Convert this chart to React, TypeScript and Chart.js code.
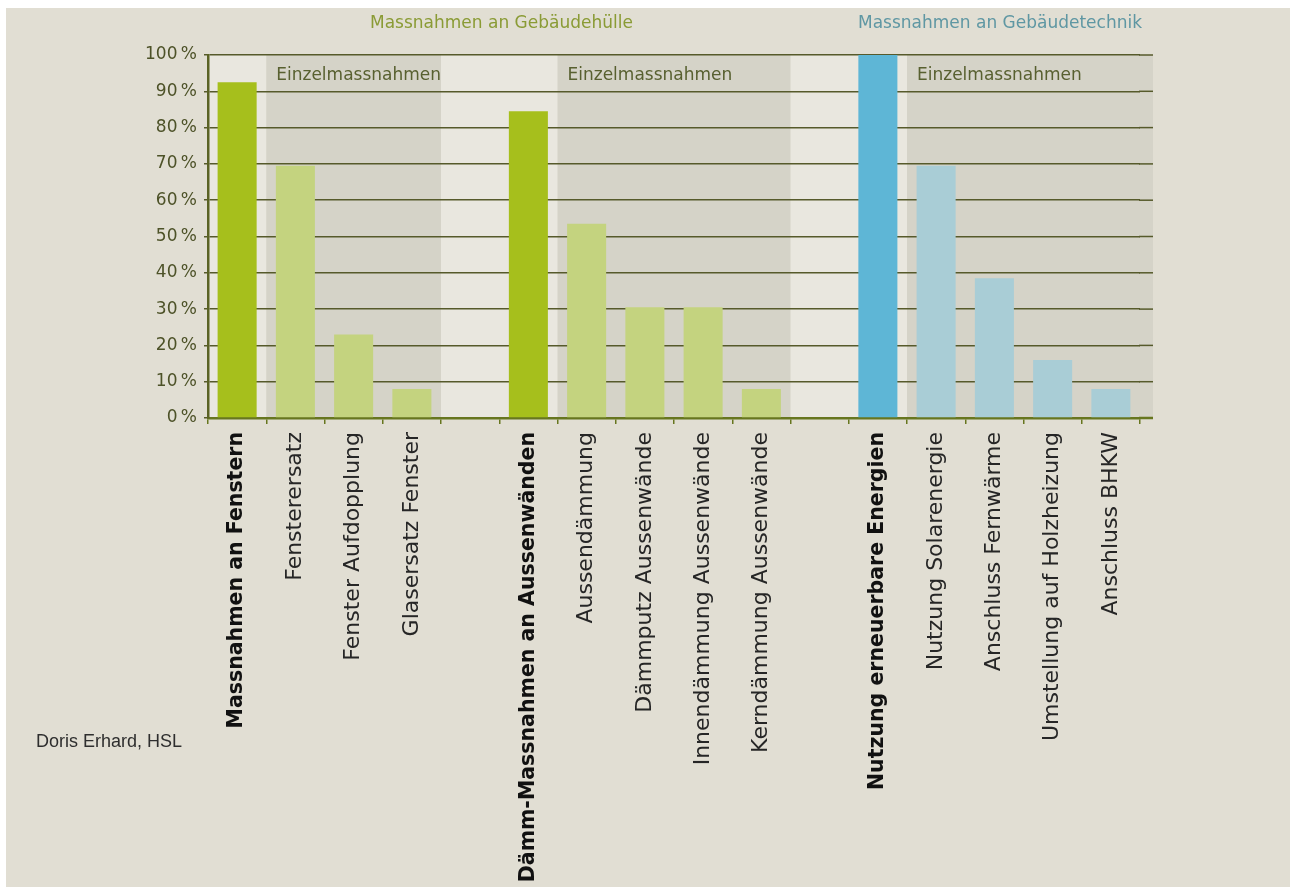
import React, { useEffect, useRef } from "react";
import { Chart, registerables } from "chart.js";

Chart.register(...registerables);

// ---------- data ----------
const categories = [
  "Massnahmen an Fenstern",
  "Fensterersatz",
  "Fenster Aufdopplung",
  "Glasersatz Fenster",
  "",
  "Dämm-Massnahmen an Aussenwänden",
  "Aussendämmung",
  "Dämmputz Aussenwände",
  "Innendämmung Aussenwände",
  "Kerndämmung Aussenwände",
  "",
  "Nutzung erneuerbare Energien",
  "Nutzung Solarenergie",
  "Anschluss Fernwärme",
  "Umstellung auf Holzheizung",
  "Anschluss BHKW",
];
const shares: (number | null)[] = [92.5, 69.5, 23, 8, null, 84.5, 53.5, 30.5, 30.5, 8, null, 100, 69.5, 38.5, 16, 8];
const mainBars = [0, 5, 11];
const technikBars = [11, 12, 13, 14, 15];
const einzelGroups = [
  [1, 3],
  [6, 9],
  [12, 15],
];
const einzelLabel = "Einzelmassnahmen";
const yMin = 0;
const yMax = 100;
const yStep = 10;
const groupTitles = ["Massnahmen an Gebäudehülle", "Massnahmen an Gebäudetechnik"];
const credit = "Doris Erhard, HSL";

// ---------- styles ----------
const PAGE_BG = "#e1ded3";
const PLOT_BG = "#e9e7df";
const SHADE = "#d5d3c8";
const GRID = "#565a2b";
const AXIS = "#67761f";
const GREEN_MAIN = "#a6bf1c";
const GREEN_SUB = "#c4d37f";
const BLUE_MAIN = "#5eb6d6";
const BLUE_SUB = "#a9cdd6";
const TICK_TXT = "#4d5228";
const EINZEL_TXT = "#586030";
const FONT = '"DejaVu Sans", sans-serif';
const EXT = 13;

const barColors = categories.map((_, i) => {
  const tech = technikBars.includes(i);
  const main = mainBars.includes(i);
  if (tech) return main ? BLUE_MAIN : BLUE_SUB;
  return main ? GREEN_MAIN : GREEN_SUB;
});

const backdropPlugin = {
  id: "backdrop",
  beforeDraw(chart: any) {
    const { ctx, chartArea: a, scales } = chart;
    const x = scales.x;
    const y = scales.y;
    const top = y.getPixelForValue(yMax);
    const bottom = y.getPixelForValue(yMin);
    const half = (x.getPixelForValue(1) - x.getPixelForValue(0)) / 2;
    ctx.save();
    ctx.fillStyle = PLOT_BG;
    ctx.fillRect(a.left, top, a.right + EXT - a.left, bottom - top);
    einzelGroups.forEach(([s, e]) => {
      const l = x.getPixelForValue(s) - half;
      let r = x.getPixelForValue(e) + half;
      if (e === categories.length - 1) r += EXT;
      ctx.fillStyle = SHADE;
      ctx.fillRect(l, top, r - l, bottom - top);
      ctx.fillStyle = EINZEL_TXT;
      ctx.font = `17px ${FONT}`;
      ctx.textBaseline = "middle";
      ctx.textAlign = "left";
      ctx.fillText(einzelLabel, l + 10, y.getPixelForValue(94.2));
    });
    ctx.restore();
  },
  afterDraw(chart: any) {
    const { ctx, chartArea: a, scales } = chart;
    const y = scales.y;
    ctx.save();
    y.ticks.forEach((t: any) => {
      const py = y.getPixelForValue(t.value);
      ctx.beginPath();
      ctx.strokeStyle = t.value === yMin ? AXIS : GRID;
      ctx.lineWidth = t.value === yMin ? 2.5 : 1.5;
      ctx.moveTo(a.right - 1, py);
      ctx.lineTo(a.right + EXT, py);
      ctx.stroke();
    });
    ctx.restore();
  },
};

export default function App() {
  const ref = useRef<HTMLCanvasElement | null>(null);

  useEffect(() => {
    if (!ref.current) return;
    const chart = new Chart(ref.current, {
      type: "bar",
      data: {
        labels: categories,
        datasets: [
          {
            data: shares,
            backgroundColor: barColors,
            borderWidth: 0,
            barPercentage: 0.67,
            categoryPercentage: 1,
          },
        ],
      },
      options: {
        animation: false,
        responsive: false,
        devicePixelRatio: 1,
        layout: { padding: { top: 55, right: 150, left: 0, bottom: 0 } },
        plugins: { legend: { display: false }, tooltip: { enabled: false }, title: { display: false } },
        scales: {
          x: {
            afterFit: (s: any) => {
              s.height = 469;
            },
            grid: {
              display: true,
              drawOnChartArea: false,
              drawTicks: true,
              tickLength: 6,
              color: AXIS,
              lineWidth: 1.5,
              offset: true,
            },
            border: { display: true, color: AXIS, width: 2.5 },
            ticks: {
              autoSkip: false,
              minRotation: 90,
              maxRotation: 90,
              padding: 8,
              color: (c: any) => (mainBars.includes(c.index) ? "#111111" : "#262626"),
              font: (c: any) => ({
                family: FONT,
                size: mainBars.includes(c.index) ? 20.5 : 22,
                weight: mainBars.includes(c.index) ? "bold" : "normal",
              }),
            },
          },
          y: {
            min: yMin,
            max: yMax,
            afterFit: (s: any) => {
              s.width = 208;
            },
            grid: {
              color: GRID,
              lineWidth: 1.5,
              drawTicks: true,
              tickLength: 4,
            },
            border: { display: true, color: "#5a6224", width: 2.5 },
            ticks: {
              stepSize: yStep,
              padding: 7,
              color: TICK_TXT,
              font: { family: FONT, size: 17 },
              callback: (v: any) => `${v}\u2009%`,
            },
          },
        },
      },
      plugins: [backdropPlugin],
    });
    return () => chart.destroy();
  }, []);

  return (
    <div style={{ position: "fixed", left: 0, top: 0, width: 1290, height: 887, background: "#ffffff" }}>
      <div style={{ position: "absolute", left: 6, top: 8, right: 0, bottom: 0, background: PAGE_BG }} />
      <canvas
        ref={ref}
        width={1290}
        height={887}
        style={{ position: "absolute", left: 0, top: 0, width: 1290, height: 887 }}
      />
      <div
        style={{
          position: "absolute",
          left: 370,
          top: 12,
          font: `17px ${FONT}`,
          color: "#8a9b35",
          whiteSpace: "nowrap",
        }}
      >
        {groupTitles[0]}
      </div>
      <div
        style={{
          position: "absolute",
          left: 858,
          top: 12,
          font: `17px ${FONT}`,
          color: "#5f97a3",
          whiteSpace: "nowrap",
        }}
      >
        {groupTitles[1]}
      </div>
      <div
        style={{
          position: "absolute",
          left: 36,
          top: 731,
          font: '18px "Liberation Sans", sans-serif',
          color: "#2e2e2e",
          whiteSpace: "nowrap",
        }}
      >
        {credit}
      </div>
    </div>
  );
}
